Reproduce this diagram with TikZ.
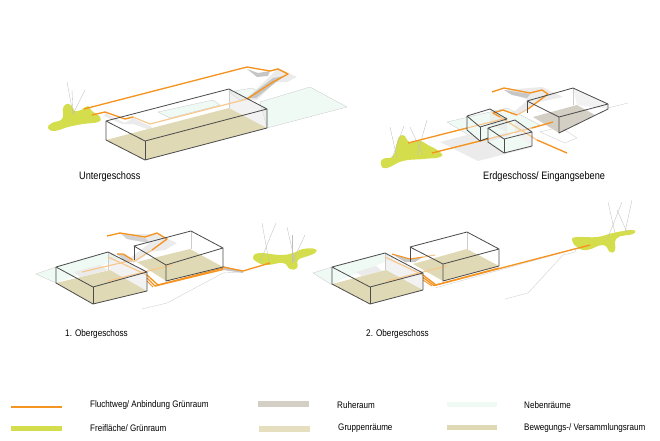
\documentclass[tikz,border=0pt]{standalone}
\usepackage{fontspec}
\setmainfont[FakeStretch=0.85]{Liberation Sans}
\usepackage{xcolor}
\definecolor{gruen}{rgb}{0.83,0.87,0.30}
\definecolor{flucht}{rgb}{0.96,0.58,0.13}
\definecolor{fluchtlight}{rgb}{0.97,0.78,0.55}
\definecolor{boden}{rgb}{0.88,0.85,0.71}
\definecolor{ruhe}{rgb}{0.83,0.81,0.77}
\definecolor{neben}{rgb}{0.94,0.98,0.96}
\definecolor{kante}{rgb}{0.3,0.3,0.3}
\tikzset{
    kantenlinie/.style={draw=kante, line width=0.7pt, line join=round},
    nebenflaeche/.style={fill=neben, draw=gray!45, line width=0.25pt},
    grauflaeche/.style={fill=gray!16},
    bodenflaeche/.style={fill=boden},
    wandflaeche/.style={fill=gray!22, fill opacity=0.45},
    fluchtweg/.style={draw=flucht, line width=1.15pt, line join=round},
    fluchtblass/.style={draw=fluchtlight, line width=1pt, line join=round},
    baumlinie/.style={draw=gray!50, line width=0.3pt},
    gelaende/.style={draw=gray!35, line width=0.35pt},
    gruenraum/.style={fill=gruen},
    titel/.style={anchor=west, inner sep=0pt, font=\fontsize{9.2}{11}\selectfont},
    legende/.style={anchor=west, inner sep=0pt, font=\fontsize{8.1}{10}\selectfont},
}
\begin{document}
\begin{tikzpicture}[x=0.03cm, y=-0.03cm]
    \useasboundingbox (0,0) rectangle (660,440);

    % Untergeschoss
    \fill[gruenraum] plot[smooth cycle, tension=0.8] coordinates {(48,128) (52,123) (62,119) (63,109) (65,105) (69,104) (73,108) (75,111) (81,110) (88,106) (92,111) (100,117) (98,122) (83,124) (68,127) (55,131)};
    \foreach \a/\b in {67/82,72/90,85/90}
        \draw[baumlinie] (\a,\b) -- (73,114);
    \draw[nebenflaeche] (310,87) -- (347,107) -- (267,128) -- (260,102) -- cycle;
    \draw[nebenflaeche] (158,112) -- (213,100) -- (220,105) -- (170,118) -- cycle;
    \draw[nebenflaeche] (229,92) -- (252,88) -- (262,94) -- (240,100) -- cycle;
    \fill[grauflaeche] (278,68) -- (297,77) -- (287,82) -- (275,82) -- (257,100) -- (245,100) -- (268,78) -- cycle;
    \fill[gray!45] (247,69) -- (258,73) -- (270,71) -- (268,76) -- (257,77) -- cycle;
    \fill[gray!45] (273,78) -- (284,76) -- (256,98) -- (247,98) -- cycle;
    \fill[grauflaeche] (105,113) -- (125,123) -- (133,118) -- (152,127) -- (150,130) -- (133,124) -- (122,124) -- (104,116) -- cycle;
    \fill[bodenflaeche] (106,140) -- (145,160) -- (267,128) -- (229,108) -- cycle;
    \fill[wandflaeche] (229,89) -- (267,109) -- (267,128) -- (229,108) -- cycle;
    \draw[gray!40, line width=0.25pt] (229,89) -- (229,108);
    \draw[fluchtblass] (247,99) -- (150,124) -- (133,117);
    \draw[fluchtweg] (84,109) -- (247,67) -- (270,71) -- (278,69) -- (288,74) -- (273,82) -- (247,99);
    \draw[fluchtweg] (133,117) -- (125,119) -- (105,112) -- (92,115);
    \draw[kantenlinie] (106,121) -- (229,89) -- (267,109) -- (145,141) -- cycle;
    \draw[kantenlinie] (106,121) -- (106,140) -- (145,160) -- (267,128) -- (267,109);
    \draw[kantenlinie] (145,141) -- (145,160);

    % Erdgeschoss/ Eingangsebene
    \fill[gruenraum] plot[smooth cycle, tension=0.8] coordinates {(381,165) (383,159) (393,156) (397,142) (400,136) (405,136) (409,142) (420,141) (428,145) (440,152) (440,157) (423,159) (403,161) (387,168)};
    \draw[baumlinie] (390,127) -- (397,158);
    \draw[baumlinie] (404,126) -- (392,158);
    \draw[baumlinie] (410,127) -- (423,155);
    \draw[baumlinie] (427,120) -- (417,155);
    \draw[nebenflaeche] (447,122) -- (507,108) -- (540,125) -- (480,142) -- cycle;
    \fill[grauflaeche] (440,142) -- (497,127) -- (533,147) -- (478,161) -- cycle;
    \draw[gelaende] (540,132) -- (560,127) -- (577,138) -- (565,143) -- cycle;
    \draw[gelaende] (608,108) -- (628,103);
    \fill[grauflaeche] (503,90) -- (542,87) -- (563,97) -- (535,103) -- (517,115) -- (510,115) -- (528,100) -- cycle;
    \fill[gray!45] (504,90) -- (530,94) -- (527,98) -- (512,95) -- cycle;
    \fill[neben] (488,142) -- (515,134) -- (532,146) -- (504,153) -- cycle;
    \fill[neben] (467,130) -- (490,124) -- (507,132) -- (480,141) -- cycle;
    \fill[ruhe] (559,133) -- (595,115) -- (577,105) -- (533,117) -- cycle;
    \fill[wandflaeche] (573,88) -- (608,104) -- (608,109) -- (577,105) -- cycle;
    \fill[wandflaeche] (515,120) -- (532,132) -- (532,146) -- (515,134) -- cycle;
    \fill[wandflaeche] (490,109) -- (507,119) -- (507,132) -- (490,124) -- cycle;
    \draw[gray!40, line width=0.25pt] (573,88) -- (573,105);
    \draw[fluchtweg] (492,92) -- (504,88) -- (530,93) -- (542,90) -- (548,94) -- (528,109);
    \draw[fluchtblass] (528,109) -- (517,115);
    \draw[fluchtweg] (517,115) -- (503,110) -- (493,113) -- (500,117);
    \draw[fluchtblass] (500,117) -- (537,140);
    \draw[fluchtweg] (537,140) -- (567,153);
    \draw[fluchtweg] (408,143) -- (467,128);
    \draw[fluchtblass] (467,128) -- (507,118);
    \draw[fluchtweg] (432,153) -- (488,139);
    \draw[fluchtblass] (488,139) -- (532,128);
    \draw[fluchtweg] (532,128) -- (553,122);
    \draw[kantenlinie] (527,101) -- (573,88) -- (608,104) -- (559,117) -- cycle;
    \draw[kantenlinie] (527,101) -- (527,113);
    \draw[kantenlinie] (559,117) -- (559,133) -- (608,109) -- (608,104);
    \draw[kantenlinie] (467,116) -- (490,109) -- (507,119) -- (480,127) -- cycle;
    \draw[kantenlinie] (467,116) -- (467,130) -- (480,141) -- (488,138);
    \draw[kantenlinie] (480,127) -- (480,141);
    \draw[kantenlinie] (488,128) -- (515,120) -- (532,132) -- (504,139) -- cycle;
    \draw[kantenlinie] (488,128) -- (488,142) -- (504,153) -- (532,146) -- (532,132);
    \draw[kantenlinie] (504,139) -- (504,153);

    % 1. Obergeschoss
    \fill[gruenraum] plot[smooth cycle, tension=0.8] coordinates {(253,257) (260,253) (280,255) (293,253) (303,249) (315,249) (315,253) (305,257) (298,260) (297,268) (290,269) (283,263) (267,265) (257,262)};
    \draw[baumlinie] (262,223) -- (269,262);
    \draw[baumlinie] (276,223) -- (260,262);
    \draw[baumlinie] (287,227) -- (295,262);
    \draw[baumlinie] (292,235) -- (292,263);
    \draw[baumlinie] (305,235) -- (292,263);
    \draw[nebenflaeche] (36,274) -- (56,267) -- (56,283) -- cycle;
    \fill[grauflaeche] (120,234) -- (157,234) -- (177,243) -- (165,250) -- (150,252) -- (137,262) -- (125,262) -- (150,243) -- (130,240) -- cycle;
    \fill[gray!35] (122,234) -- (145,238) -- (150,243) -- (127,239) -- cycle;
    \fill[neben] (56,267) -- (108,252) -- (120,258) -- (70,278) -- (56,283) -- cycle;
    \fill[grauflaeche] (74,272) -- (100,265) -- (108,270) -- (80,277) -- cycle;
    \fill[bodenflaeche] (56,283) -- (93,304) -- (147,291) -- (110,270) -- cycle;
    \fill[wandflaeche] (108,252) -- (147,272) -- (147,291) -- (110,270) -- cycle;
    \fill[bodenflaeche] (137,262) -- (190,249) -- (223,267) -- (166,281) -- cycle;
    \fill[gray!35] (117,254) -- (125,254) -- (133,262) -- (125,261) -- cycle;
    \draw[gray!40, line width=0.25pt] (108,252) -- (108,270);
    \draw[gray!40, line width=0.25pt] (191,231) -- (191,249);
    \draw[fluchtweg] (107,236) -- (120,233) -- (145,237) -- (157,233) -- (167,239) -- (152,250);
    \draw[fluchtblass] (152,250) -- (133,262);
    \draw[fluchtweg] (117,254) -- (123,254) -- (133,260);
    \draw[fluchtblass] (82,272) -- (133,260);
    \draw[fluchtblass] (108,257) -- (147,275);
    \draw[fluchtblass] (108,281) -- (172,265);
    \fill[gray!45] (223,266) -- (243,271) -- (243,273) -- (223,270) -- cycle;
    \draw[fluchtweg] (147,275) -- (158,285) -- (223,268);
    \draw[fluchtweg] (147,278) -- (155,286) -- (223,269.5);
    \draw[fluchtweg, line width=0.8pt] (147,281) -- (153,287);
    \draw[fluchtweg] (223,267) -- (243,271) -- (270,263);
    \draw[gelaende] (142,309) -- (167,303) -- (223,273) -- (240,272);
    \draw[kantenlinie] (56,267) -- (108,252) -- (147,272) -- (93,287) -- cycle;
    \draw[kantenlinie] (56,267) -- (56,283) -- (93,304) -- (147,291) -- (147,272);
    \draw[kantenlinie] (93,287) -- (93,304);
    \draw[kantenlinie] (134,246) -- (191,231) -- (223,248) -- (166,265) -- cycle;
    \draw[kantenlinie] (134,246) -- (134,260);
    \draw[kantenlinie] (166,265) -- (166,281) -- (223,267) -- (223,248);

    % 2. Obergeschoss
    \fill[gruenraum] plot[smooth cycle, tension=0.8] coordinates {(572,240) (577,237) (597,237) (613,233) (632,230) (633,234) (617,238) (615,250) (610,252) (603,245) (587,250) (577,247)};
    \draw[baumlinie] (608,202) -- (615,233);
    \draw[baumlinie] (622,202) -- (607,240);
    \draw[baumlinie] (632,200) -- (625,232);
    \draw[baumlinie] (617,210) -- (627,232);
    \draw[nebenflaeche] (313,273) -- (332,267) -- (332,285) -- cycle;
    \fill[neben] (332,267) -- (385,253) -- (395,258) -- (345,278) -- (332,284) -- cycle;
    \fill[grauflaeche] (356,272) -- (376,266) -- (382,271) -- (362,276) -- cycle;
    \fill[bodenflaeche] (332,284) -- (370,304) -- (423,290) -- (386,270) -- cycle;
    \fill[wandflaeche] (385,253) -- (423,273) -- (423,290) -- (386,270) -- cycle;
    \fill[bodenflaeche] (413,264) -- (467,249) -- (499,266) -- (443,281) -- cycle;
    \fill[gray!45] (392,254) -- (410,259) -- (423,257) -- (415,262) -- (405,262) -- cycle;
    \draw[gray!40, line width=0.25pt] (385,253) -- (385,270);
    \draw[gray!40, line width=0.25pt] (467,232) -- (467,249);
    \draw[gelaende] (435,288) -- (575,249) -- (576,252);
    \draw[fluchtweg, line width=0.9pt] (392,254) -- (410,259) -- (423,257);
    \draw[fluchtblass] (423,257) -- (435,255);
    \draw[fluchtblass] (385,257) -- (423,275);
    \draw[fluchtblass] (387,281) -- (447,266);
    \draw[fluchtweg] (423,275) -- (436,285) -- (590,245);
    \draw[fluchtweg] (423,277.5) -- (434,285.5) -- (499,268);
    \draw[fluchtweg, line width=0.8pt] (423,280) -- (432,286);
    \draw[gelaende] (505,299) -- (528,293) -- (563,255) -- (575,252);
    \draw[kantenlinie] (332,267) -- (385,253) -- (423,273) -- (370,287) -- cycle;
    \draw[kantenlinie] (332,267) -- (332,284) -- (370,304) -- (423,290) -- (423,273);
    \draw[kantenlinie] (370,287) -- (370,304);
    \draw[kantenlinie] (410,247) -- (467,232) -- (499,249) -- (443,264) -- cycle;
    \draw[kantenlinie] (410,247) -- (410,262);
    \draw[kantenlinie] (443,264) -- (443,281) -- (499,266) -- (499,249);

    % Titel
    \node[titel] (untergeschoss) at (79,177) {Untergeschoss};
    \node[titel] (erdgeschoss) at (483,177) {Erdgeschoss/ Eingangsebene};
    \node[titel, font=\fontsize{8.2}{10}\selectfont] (obergeschoss1) at (65,334) {1. Obergeschoss};
    \node[titel, font=\fontsize{8.2}{10}\selectfont] (obergeschoss2) at (366,334) {2. Obergeschoss};

    % Legende
    \draw[flucht, line width=1.1pt] (11,407) -- (62,407);
    \fill[gruen] (11,426) rectangle (62,431);
    \fill[ruhe] (258,401) rectangle (309,407);
    \fill[boden!85] (259,426) rectangle (310,432);
    \fill[neben] (447,402) rectangle (497,407);
    \fill[boden] (447,425) rectangle (497,430);
    \node[legende] (fluchtweglabel) at (90,405) {Fluchtweg/ Anbindung Grünraum};
    \node[legende] (freiflaechelabel) at (90,428) {Freifläche/ Grünraum};
    \node[legende] (ruhelabel) at (337,405) {Ruheraum};
    \node[legende] (gruppenlabel) at (338,428) {Gruppenräume};
    \node[legende] (nebenlabel) at (524,405) {Nebenräume};
    \node[legende] (bewegunglabel) at (524,428) {Bewegungs-/ Versammlungsraum};
\end{tikzpicture}
\end{document}
